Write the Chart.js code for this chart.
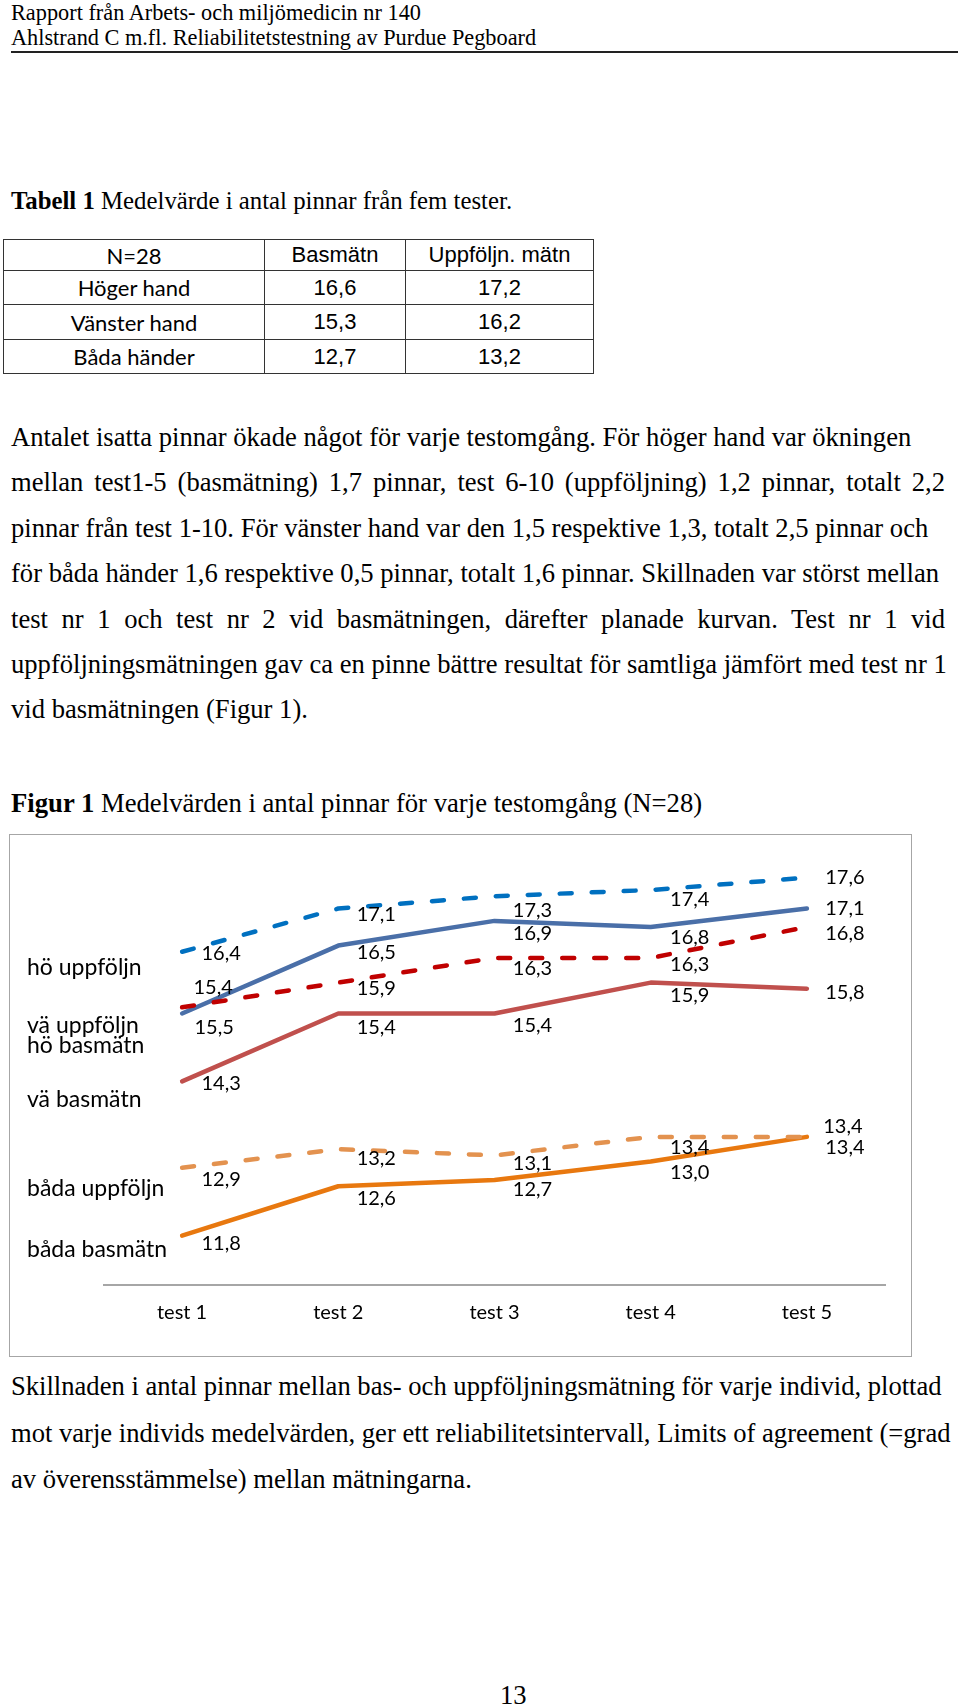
<!DOCTYPE html>
<html lang="sv">
<head>
<meta charset="utf-8">
<title>Figur 1 Medelvärden i antal pinnar</title>
<script src="https://cdn.jsdelivr.net/npm/chart.js@4.4.1/dist/chart.umd.min.js"></script>
<style>
  html, body { margin: 0; padding: 0; background: #fff; }
  body {
    width: 960px; height: 1707px; position: relative; overflow: hidden;
    font-family: "Liberation Serif", "Times New Roman", serif; color: #000;
  }
  .abs { position: absolute; white-space: nowrap; }
  .hdr { left: 11px; top: 0; font-size: 22.3px; line-height: 25px; }
  .rule { left: 11px; top: 51px; width: 947px; height: 2px; background: #222; }
  .cap { left: 11px; line-height: 30px; }
  .para { left: 11px; font-size: 26.6px; }
  .p1 { top: 415px; line-height: 45.4px; width: 934px; }
  .p1 .j { white-space: normal; text-align: justify; text-align-last: justify; }
  .p2 { top: 1363px; line-height: 46.5px; }
  .pnum { left: 500px; top: 1680px; font-size: 26.6px; line-height: 30px; }

  table.t1 {
    position: absolute; left: 3px; top: 239px; width: 590px;
    border-collapse: collapse; table-layout: fixed;
  }
  table.t1 td {
    border: 1.5px solid #333; text-align: center; vertical-align: middle;
    padding: 0; white-space: nowrap;
  }
  table.t1 td.lbl { font-family: Lato, "Liberation Sans", sans-serif; font-size: 22px; }
  table.t1 td.num { font-family: "Liberation Sans", Arial, sans-serif; font-size: 22px; }

  #chartBox {
    position: absolute; left: 9px; top: 834px; width: 903px; height: 523px;
    box-sizing: border-box; border: 1.5px solid #a6a6a6;
  }
  #chartCanvas { position: absolute; left: 9px; top: 834px; }
</style>
</head>
<body>

<div class="abs hdr">Rapport från Arbets- och miljömedicin nr 140<br>Ahlstrand C m.fl. Reliabilitetstestning av Purdue Pegboard</div>
<div class="abs rule"></div>

<div class="abs cap" style="top:186px; font-size:24.8px"><b>Tabell 1</b> Medelvärde i antal pinnar från fem tester.</div>

<table class="t1">
  <colgroup><col style="width:261px"><col style="width:141px"><col style="width:188px"></colgroup>
  <tr style="height:31px"><td class="lbl">N=28</td><td class="num">Basmätn</td><td class="num">Uppföljn. mätn</td></tr>
  <tr style="height:34px"><td class="lbl">Höger hand</td><td class="num">16,6</td><td class="num">17,2</td></tr>
  <tr style="height:35px"><td class="lbl">Vänster hand</td><td class="num">15,3</td><td class="num">16,2</td></tr>
  <tr style="height:34px"><td class="lbl">Båda händer</td><td class="num">12,7</td><td class="num">13,2</td></tr>
</table>

<div class="abs para p1">
  <div>Antalet isatta pinnar ökade något för varje testomgång. För höger hand var ökningen</div>
  <div class="j">mellan test1-5 (basmätning) 1,7 pinnar, test 6-10 (uppföljning) 1,2 pinnar, totalt 2,2</div>
  <div>pinnar från test 1-10. För vänster hand var den 1,5 respektive 1,3, totalt 2,5 pinnar och</div>
  <div>för båda händer 1,6 respektive 0,5 pinnar, totalt 1,6 pinnar. Skillnaden var störst mellan</div>
  <div class="j">test nr 1 och test nr 2 vid basmätningen, därefter planade kurvan. Test nr 1 vid</div>
  <div>uppföljningsmätningen gav ca en pinne bättre resultat för samtliga jämfört med test nr 1</div>
  <div>vid basmätningen (Figur 1).</div>
</div>

<div class="abs cap" style="top:788px; font-size:26.7px"><b>Figur 1</b> Medelvärden i antal pinnar för varje testomgång (N=28)</div>

<div id="chartBox"></div>
<canvas id="chartCanvas" width="903" height="523"></canvas>

<div class="abs para p2">Skillnaden i antal pinnar mellan bas- och uppföljningsmätning för varje individ, plottad<br>mot varje individs medelvärden, ger ett reliabilitetsintervall, Limits of agreement (=grad<br>av överensstämmelse) mellan mätningarna.</div>

<div class="abs pnum">13</div>

<script>
const testLabels = ['test 1', 'test 2', 'test 3', 'test 4', 'test 5'];

const seriesNames = ['hö uppföljn', 'vä uppföljn', 'hö basmätn', 'vä basmätn', 'båda uppföljn', 'båda basmätn'];

// medelvärden per testomgång
const hoUppfoljn   = [16.4, 17.1, 17.3, 17.4, 17.6];
const vaUppfoljn   = [15.5, 15.9, 16.3, 16.3, 16.8];
const hoBasmatn    = [15.4, 16.5, 16.9, 16.8, 17.1];
const vaBasmatn    = [14.3, 15.4, 15.4, 15.9, 15.8];
const badaUppfoljn = [12.9, 13.2, 13.1, 13.4, 13.4];
const badaBasmatn  = [11.8, 12.6, 12.7, 13.0, 13.4];

const yMin = 11;
const yMax = 18;

// utseende
const seriesColors = ['#0070c0', '#c00000', '#4a6fa8', '#c0504d', '#e3924f', '#e8780f'];
const seriesDashed = [true, true, false, false, true, false];

// var seriens namn står till vänster (px från canvasens överkant)
const nameRows = [134, 192, 212, 266, 355, 416];

// etiketternas förskjutning från punkten [dx, dy]
const labelOffsets = [
    [[39, 2], [38, 6], [38, 14], [39, 10], [38, 0]],
    [[32, 20], [38, 6], [38, 11], [39, 7], [38, 6]],
    [[31, -26], [38, 7], [38, 13], [39, 10], [38, 0]],
    [[39, 2], [38, 14], [38, 12], [39, 13], [38, 4]],
    [[39, 12], [38, 9], [38, 8], [39, 11], [36, -10]],
    [[39, 8], [38, 12], [38, 9], [39, 11], [38, 11]]
];

const seriesValues = [hoUppfoljn, vaUppfoljn, hoBasmatn, vaBasmatn, badaUppfoljn, badaBasmatn];

const datasets = seriesValues.map((vals, i) => ({
    label: seriesNames[i],
    data: vals,
    borderColor: seriesColors[i],
    backgroundColor: seriesColors[i],
    borderWidth: 4.5,
    borderDash: seriesDashed[i] ? [12, 20] : [],
    borderCapStyle: 'round',
    borderJoinStyle: 'round',
    pointRadius: 0,
    tension: 0,
    fill: false
}));

const fmt = v => v.toFixed(1).replace('.', ',');

// skriver värdena bredvid punkterna och seriernas namn till vänster
const labelPlugin = {
    id: 'valueLabels',
    afterDatasetsDraw(chart) {
        const ctx = chart.ctx;
        ctx.save();
        ctx.fillStyle = '#000';
        ctx.font = '20px Lato, "Liberation Sans", sans-serif';
        ctx.textAlign = 'center';
        ctx.textBaseline = 'middle';
        chart.data.datasets.forEach((ds, i) => {
            const meta = chart.getDatasetMeta(i);
            meta.data.forEach((pt, j) => {
                const [dx, dy] = labelOffsets[i][j];
                ctx.fillText(fmt(ds.data[j]), pt.x + dx, pt.y + dy);
            });
        });
        ctx.font = '23px Lato, "Liberation Sans", sans-serif';
        ctx.textAlign = 'left';
        seriesNames.forEach((name, i) => {
            ctx.fillText(name, 18, nameRows[i]);
        });
        ctx.restore();
    }
};

new Chart(document.getElementById('chartCanvas').getContext('2d'), {
    type: 'line',
    data: { labels: testLabels, datasets: datasets },
    options: {
        responsive: false,
        animation: false,
        layout: { padding: { left: 95, right: 27, top: 19, bottom: 0 } },
        plugins: {
            legend: { display: false },
            tooltip: { enabled: false },
            title: { display: false }
        },
        scales: {
            x: {
                offset: true,
                grid: { display: false, drawTicks: false },
                border: { display: true, color: '#a6a6a6', width: 2 },
                ticks: {
                    color: '#000',
                    padding: 16,
                    font: { family: 'Lato', size: 20 }
                },
                afterFit: axis => { axis.height = 72; }
            },
            y: {
                display: false,
                min: yMin,
                max: yMax
            }
        }
    },
    plugins: [labelPlugin]
});
</script>
</body>
</html>
